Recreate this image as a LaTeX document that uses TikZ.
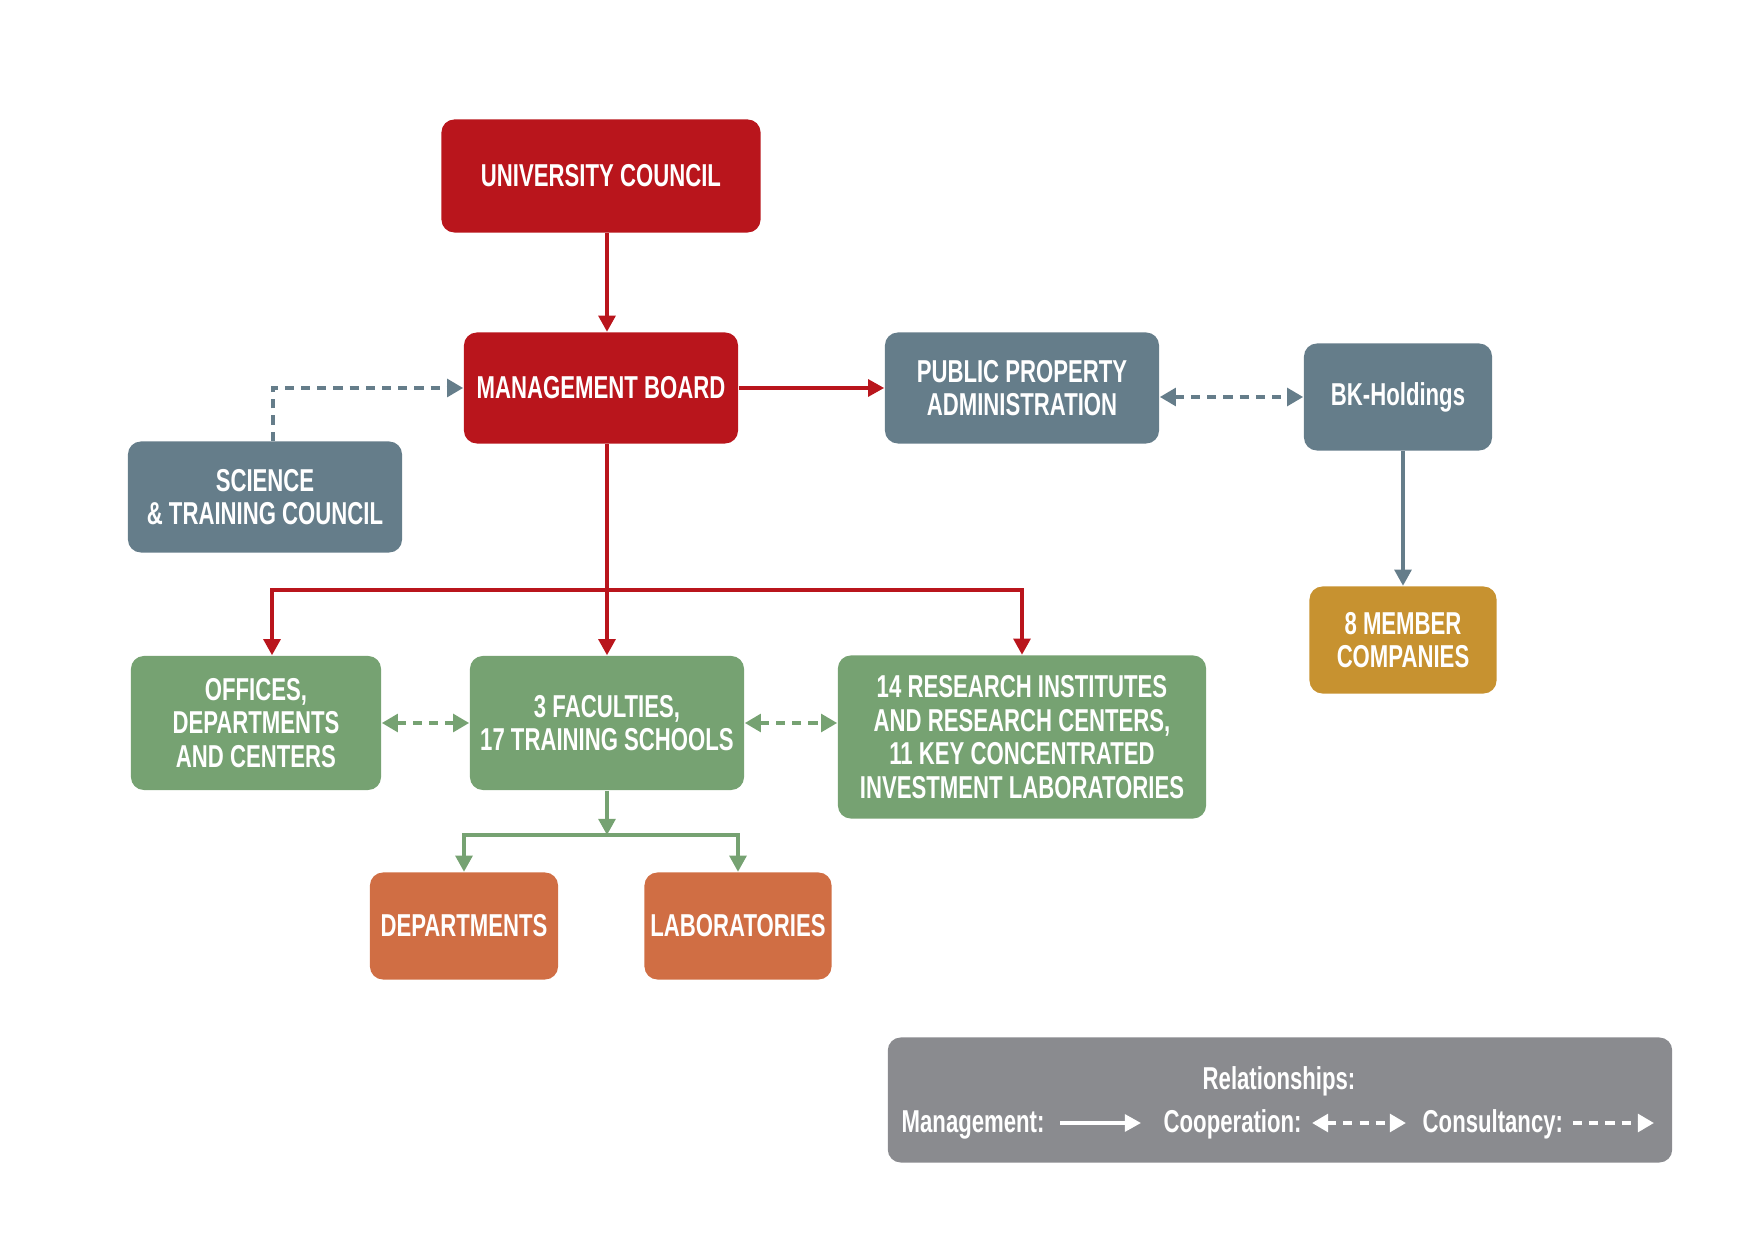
\documentclass[tikz,border=0pt]{standalone}
\usepackage{fontspec}
\setmainfont{Liberation Sans}[FakeStretch=0.7]
\usetikzlibrary{arrows.meta}
\definecolor{ured}{RGB}{185,21,28}
\definecolor{uslate}{RGB}{101,125,138}
\definecolor{ugreen}{RGB}{118,162,114}
\definecolor{uorange}{RGB}{208,110,68}
\definecolor{umust}{RGB}{199,146,48}
\definecolor{ulegend}{RGB}{138,139,143}
\begin{document}
\begin{tikzpicture}[x=0.01cm, y=-0.01cm,
  box/.style={rectangle, rounded corners=0.13cm, text=white, align=center, inner sep=0pt, font=\fontsize{9}{9.6}\selectfont\bfseries},
  mgmt/.style={line width=1pt, -{Triangle[length=4.6pt,width=4.8pt]}},
  coop/.style={line width=1.2pt, dash pattern=on 2.6pt off 2pt, {Triangle[length=4.6pt,width=5pt]}-{Triangle[length=4.6pt,width=5pt]}},
  cons/.style={line width=1.2pt, dash pattern=on 2.6pt off 2pt, -{Triangle[length=4.6pt,width=5pt]}}]
\useasboundingbox (0,0) rectangle (1754,1240);
\node[box, fill=ured, minimum width=3.19cm, minimum height=1.13cm] (uc) at (601,176){UNIVERSITY COUNCIL};
\node[box, fill=ured, minimum width=2.74cm, minimum height=1.11cm] (mb) at (601,388){MANAGEMENT BOARD};
\node[box, fill=uslate, minimum width=2.74cm, minimum height=1.11cm] (ppa) at (1022,388){PUBLIC PROPERTY\\ADMINISTRATION};
\node[box, fill=uslate, minimum width=1.88cm, minimum height=1.07cm] (bk) at (1398,397){BK-Holdings};
\node[box, fill=uslate, minimum width=2.74cm, minimum height=1.11cm] (stc) at (265,497){SCIENCE\\\&~TRAINING COUNCIL};
\node[box, fill=ugreen, minimum width=2.5cm, minimum height=1.34cm] (off) at (256,723){OFFICES,\\DEPARTMENTS\\AND CENTERS};
\node[box, fill=ugreen, minimum width=2.74cm, minimum height=1.34cm] (fac) at (607,723){3 FACULTIES,\\17 TRAINING SCHOOLS};
\node[box, fill=ugreen, minimum width=3.68cm, minimum height=1.63cm] (res) at (1022,737){14 RESEARCH INSTITUTES\\AND RESEARCH CENTERS,\\11 KEY CONCENTRATED\\INVESTMENT LABORATORIES};
\node[box, fill=umust, minimum width=1.87cm, minimum height=1.07cm] (mem) at (1403,640){8 MEMBER\\COMPANIES};
\node[box, fill=uorange, minimum width=1.88cm, minimum height=1.07cm] (dep) at (464,926){DEPARTMENTS};
\node[box, fill=uorange, minimum width=1.87cm, minimum height=1.07cm] (lab) at (738,926){LABORATORIES};
% management
\draw[mgmt, ured] (uc.south -| fac) -- (mb.north -| fac);
\draw[mgmt, ured] (mb) -- (ppa);
\coordinate (rbus) at (607,590);
\draw[mgmt, ured] (mb.south -| fac) -- (fac.north);
\draw[mgmt, ured] (rbus) -| ([xshift=0.16cm]off.north);
\draw[mgmt, ured] (rbus) -| (res.north);
\draw[mgmt, uslate] (bk.south -| mem.north) -- (mem.north);
\coordinate (gbus) at (607,835);
\draw[mgmt, ugreen] (fac.south) -- (gbus);
\draw[mgmt, ugreen] (gbus) -| (dep.north);
\draw[mgmt, ugreen] (gbus) -| (lab.north);
% cooperation, consultancy
\draw[cons, uslate] ([xshift=0.08cm]stc.north) |- (mb.west);
\draw[coop, uslate] (ppa.east |- bk.west) -- (bk.west);
\draw[coop, ugreen] (off.east) -- (fac.west);
\draw[coop, ugreen] (fac.east) -- (fac.east -| res.west);
% legend
\node[box, fill=ulegend, minimum width=7.84cm, minimum height=1.25cm] (leg) at (1280,1100){};
\node[box, anchor=base] (rel) at (1279,1089){Relationships:};
\node[box, anchor=base west] (lman) at (901,1132){Management:};
\node[box, anchor=base west] (lcoo) at (1163,1132){Cooperation:};
\node[box, anchor=base west] (lcon) at (1422,1132){Consultancy:};
\coordinate (lman1) at (1060,1123); \coordinate (lman2) at (1141,1123);
\coordinate (lcoo1) at (1312,1123); \coordinate (lcoo2) at (1406,1123);
\coordinate (lcon1) at (1573,1123); \coordinate (lcon2) at (1654,1123);
\draw[mgmt, white] (lman1) -- (lman2);
\draw[coop, white] (lcoo1) -- (lcoo2);
\draw[cons, white] (lcon1) -- (lcon2);
\end{tikzpicture}
\end{document}
